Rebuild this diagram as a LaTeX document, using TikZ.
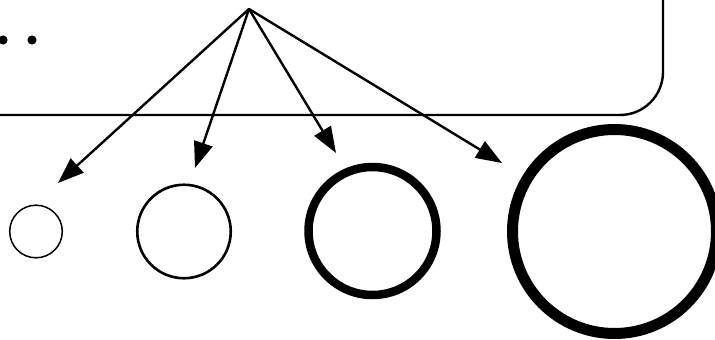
\documentclass[tikz,border=0pt]{standalone}
\usetikzlibrary{arrows.meta}
\begin{document}
\begin{tikzpicture}[x=1pt, y=-1pt, >={Triangle[length=26pt, width=19pt]}, line join=round, line cap=round]
	\tikzset{ring/.style={draw, circle, inner sep=0pt, minimum size=#1}}
	\useasboundingbox (0,0) rectangle (715,340);
	\clip (0,0) rectangle (715,340);
	\path (249,9) coordinate (src)
	(58,183) coordinate (t1)
	(195,168) coordinate (t2)
	(336,153) coordinate (t3)
	(502,163) coordinate (t4);
	% box, mostly off the page
	\draw[line width=2.4pt, rounded corners=43pt] (-80,-80) rectangle (663,115);
	\foreach \x in {3,32}{
		\fill (\x,40) circle (4.6pt);
	}
	% rings, thin to thick
	\node[ring=52.6pt, line width=1.5pt] (c1) at (36,231.5) {};
	\node[ring=93.5pt, line width=2.6pt] (c2) at (184,231.5) {};
	\node[ring=128pt, line width=8.5pt] (c3) at (372.5,231) {};
	\node[ring=204pt, line width=11pt] (c4) at (614.5,231.5) {};
	\foreach \t in {t1,t2,t3,t4}{
		\draw[->, line width=2.4pt] (src) -- (\t);
	}
\end{tikzpicture}
\end{document}
